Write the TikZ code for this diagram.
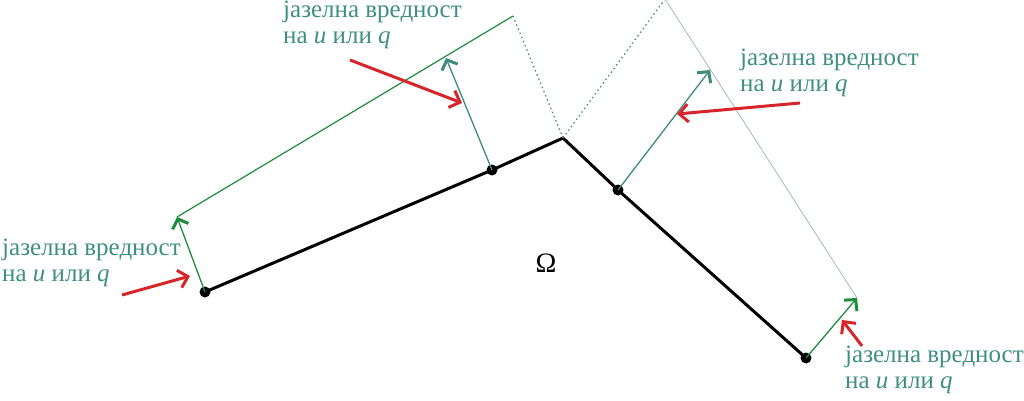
\documentclass[tikz,border=0pt]{standalone}
\usepackage{fontspec}
\setmainfont{Liberation Serif}
\usetikzlibrary{arrows.meta}
\definecolor{grn}{HTML}{1E8C3E}
\definecolor{teal2}{HTML}{3E8C7C}
\definecolor{txt}{HTML}{3F8F80}
\definecolor{redc}{HTML}{D7262B}
\definecolor{greyl}{HTML}{A8B8B0}
\begin{document}
\begin{tikzpicture}[x=1pt,y=-1pt,
  dot/.style={circle,fill=black,inner sep=0pt,minimum size=11pt},
  lbl/.style={text=txt,font=\fontsize{25}{26}\selectfont,align=left,inner sep=0pt,anchor=north west},
  garrow/.style={line width=1.3pt,-{Straight Barb[length=8pt,width=17pt,line width=3pt]}},
  rarrow/.style={draw=redc,line width=3pt,-{Straight Barb[length=9pt,width=18pt,line width=3pt]}},
  dots/.style={dash pattern=on 1.5pt off 3pt,line width=1.2pt}]
\useasboundingbox (0,0) rectangle (1024,401);
% boundary nodes
\node[dot] (n1) at (205,292) {};
\node[dot] (n2) at (492,170) {};
\coordinate (c) at (563,138);
\node[dot] (n3) at (618,190) {};
\node[dot] (n4) at (806,358) {};
\draw[line width=3pt,line join=miter] (n1.center) -- (n2.center) -- (c) -- (n3.center) -- (n4.center);
% tips
\coordinate (t1) at (177,217);
\coordinate (t2) at (446,58);
\coordinate (top1) at (513,16);
\coordinate (top2) at (665,-1);
\coordinate (t3) at (710,70);
\coordinate (t4) at (857,298);
% value lines
\draw[grn,line width=1.2pt] (t1) -- (top1);
\draw[teal2,dots] (top1) -- (c);
\draw[teal2,dots] (c) -- (top2);
\draw[greyl,line width=0.8pt] (top2) -- (t4);
% green arrows
\draw[grn,garrow] (n1.center) -- (t1);
\draw[teal2,garrow] (n2.center) -- (t2);
\draw[teal2,garrow] (n3.center) -- (t3);
\draw[grn,garrow] (n4.center) -- (t4);
% labels
\node[lbl] (l1) at (2,239) {јазелна вредност\\на \textit{u} или \textit{q}};
\node[lbl] (l2) at (283,1) {јазелна вредност\\на \textit{u} или \textit{q}};
\node[lbl] (l3) at (740,49) {јазелна вредност\\на \textit{u} или \textit{q}};
\node[lbl] (l4) at (845,346) {јазелна вредност\\на \textit{u} или \textit{q}};
% red arrows
\coordinate (r1s) at (122,295); \coordinate (r1e) at (190,276);
\coordinate (r2s) at (350,60); \coordinate (r2e) at (462,103);
\coordinate (r3s) at (800,103); \coordinate (r3e) at (677,114);
\coordinate (r4s) at (862,346); \coordinate (r4e) at (842,320);
\draw[rarrow] (r1s) -- (r1e);
\draw[rarrow] (r2s) -- (r2e);
\draw[rarrow] (r3s) -- (r3e);
\draw[rarrow] (r4s) -- (r4e);
\node[font=\fontsize{28}{30}\selectfont,inner sep=0pt] (om) at (546,263) {Ω};
\end{tikzpicture}
\end{document}
